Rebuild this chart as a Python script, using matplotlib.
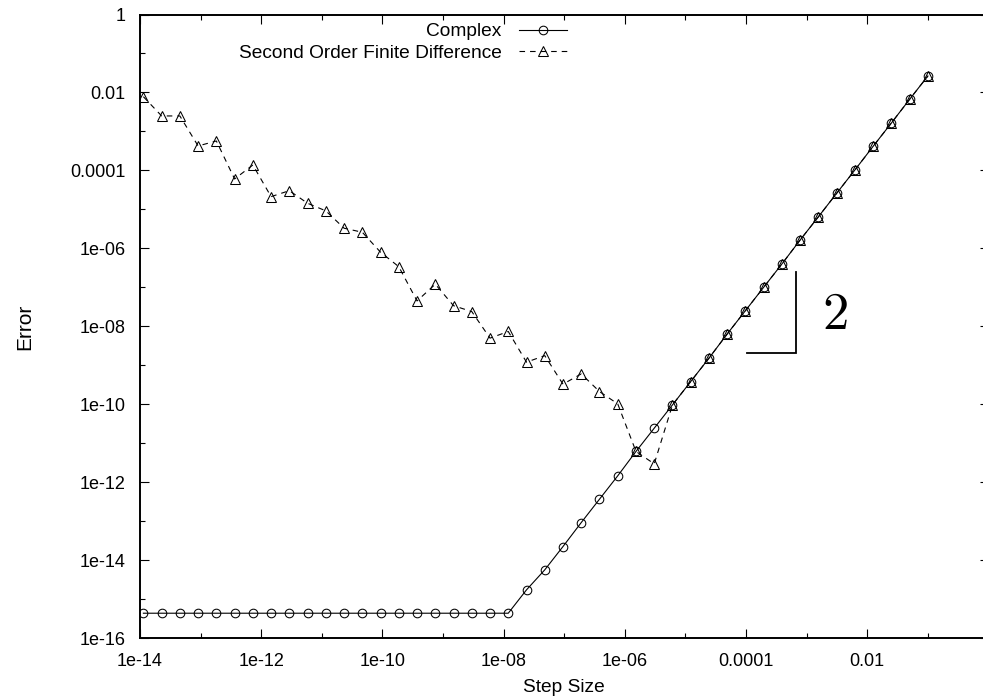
import numpy as np
import matplotlib
matplotlib.use("Agg")
import matplotlib.pyplot as plt

plt.rcParams['font.family'] = ['Liberation Sans', 'DejaVu Sans']
plt.rcParams['mathtext.fontset'] = 'cm'

# step sizes (h = 0.1 / 2^k), smallest first
step_sizes = [
    1.137e-14, 2.274e-14, 4.547e-14, 9.095e-14, 1.819e-13, 3.638e-13,
    7.276e-13, 1.455e-12, 2.910e-12, 5.821e-12, 1.164e-11, 2.328e-11,
    4.657e-11, 9.313e-11, 1.863e-10, 3.725e-10, 7.451e-10, 1.490e-09,
    2.980e-09, 5.960e-09, 1.192e-08, 2.384e-08, 4.768e-08, 9.537e-08,
    1.907e-07, 3.815e-07, 7.629e-07, 1.526e-06, 3.052e-06, 6.104e-06,
    1.221e-05, 2.441e-05, 4.883e-05, 9.766e-05, 1.953e-04, 3.906e-04,
    7.813e-04, 1.563e-03, 3.125e-03, 6.250e-03, 1.250e-02, 2.500e-02,
    5.000e-02, 1.000e-01,
]

complex_err = [
    4.4e-16, 4.4e-16, 4.4e-16, 4.4e-16, 4.4e-16, 4.4e-16, 4.4e-16,
    4.4e-16, 4.4e-16, 4.4e-16, 4.4e-16, 4.4e-16, 4.4e-16, 4.4e-16,
    4.4e-16, 4.4e-16, 4.4e-16, 4.4e-16, 4.4e-16, 4.4e-16, 4.4e-16,
    1.75e-15, 5.7e-15, 2.26e-14, 9.3e-14, 3.7e-13, 1.47e-12, 6.2e-12,
    2.45e-11, 9.7e-11, 3.85e-10, 1.53e-09, 6.4e-09, 2.54e-08, 1.01e-07,
    4.0e-07, 1.65e-06, 6.5e-06, 2.6e-05, 1.03e-04, 4.17e-04, 1.65e-03,
    6.7e-03, 2.65e-02,
]

fd_err = [
    7.8e-03, 2.5e-03, 2.5e-03, 4.25e-04, 5.7e-04, 6.05e-05, 1.38e-04,
    2.13e-05, 3.03e-05, 1.44e-05, 9.2e-06, 3.3e-06, 2.6e-06, 8.0e-07,
    3.4e-07, 4.5e-08, 1.21e-07, 3.4e-08, 2.4e-08, 5.0e-09, 7.4e-09,
    1.21e-09, 1.78e-09, 3.3e-10, 6.05e-10, 2.13e-10, 1.03e-10, 6.2e-12,
    2.98e-12, 9.7e-11, 3.85e-10, 1.53e-09, 6.4e-09, 2.54e-08, 1.01e-07,
    4.0e-07, 1.65e-06, 6.5e-06, 2.6e-05, 1.03e-04, 4.17e-04, 1.65e-03,
    6.7e-03, 2.65e-02,
]

# slope marker: corner lines and label
slope_x = [1.05e-4, 6.6e-4, 6.6e-4]
slope_y = [2.1e-9, 2.1e-9, 2.5e-7]
slope_label = '$2$'
slope_label_pos = (2.9e-3, 2.0e-8)


def gp_label(v, pos):
    e = int(round(np.log10(v)))
    if e >= -4:
        return ('%.*f' % (max(-e, 0), v))
    return '1e-%02d' % (-e)


fig = plt.figure(figsize=(9.83, 6.98), dpi=100)
ax = fig.add_axes([140 / 983, 59.7 / 698, 848.5 / 983, 623.8 / 698])

ax.plot(step_sizes, complex_err, '-', color='black', lw=0.8,
        marker='o', ms=6.2, mfc='none', mec='black', mew=0.75,
        label='Complex')
ax.plot(step_sizes, fd_err, color='black', lw=0.8, dashes=(5, 4.5),
        marker='^', ms=6.5, mfc='none', mec='black', mew=0.75,
        label='Second Order Finite Difference')

ax.plot(slope_x, slope_y, color='black', lw=1.3, solid_joinstyle='miter')
ax.text(*slope_label_pos, slope_label, fontsize=38, ha='center', va='center')

ax.set_xscale('log')
ax.set_yscale('log')
ax.set_xlim(1e-14, 1)
ax.set_ylim(1e-16, 1)

ax.set_xticks(10.0 ** np.arange(-14, -1, 2))
ax.set_xticks(10.0 ** np.arange(-13, 0, 2), minor=True)
ax.set_yticks(10.0 ** np.arange(-16, 1, 2))
ax.set_yticks(10.0 ** np.arange(-15, 0, 2), minor=True)
ax.xaxis.set_major_formatter(plt.FuncFormatter(gp_label))
ax.yaxis.set_major_formatter(plt.FuncFormatter(gp_label))
ax.xaxis.set_minor_formatter(plt.NullFormatter())
ax.yaxis.set_minor_formatter(plt.NullFormatter())

ax.tick_params(which='both', direction='in', top=True, right=True,
               width=0.8, labelsize=13, pad=10.5)
ax.tick_params(which='major', length=6.5)
ax.tick_params(which='minor', length=3.5)
for s in ax.spines.values():
    s.set_linewidth(1.4)

ax.set_xlabel('Step Size', fontsize=13.8)
ax.set_ylabel('Error', fontsize=15)
ax.xaxis.set_label_coords(0.5, -0.066)
ax.yaxis.set_label_coords(-0.125, 0.5)

ax.legend(loc='upper right', bbox_to_anchor=(567 / 983, 1 - 23 / 698),
          bbox_transform=fig.transFigure, frameon=False, markerfirst=False,
          fontsize=13.8, handlelength=2.5, handletextpad=0.9,
          labelspacing=0.2, borderpad=0, borderaxespad=0)

fig.savefig('out.png', dpi=100)
